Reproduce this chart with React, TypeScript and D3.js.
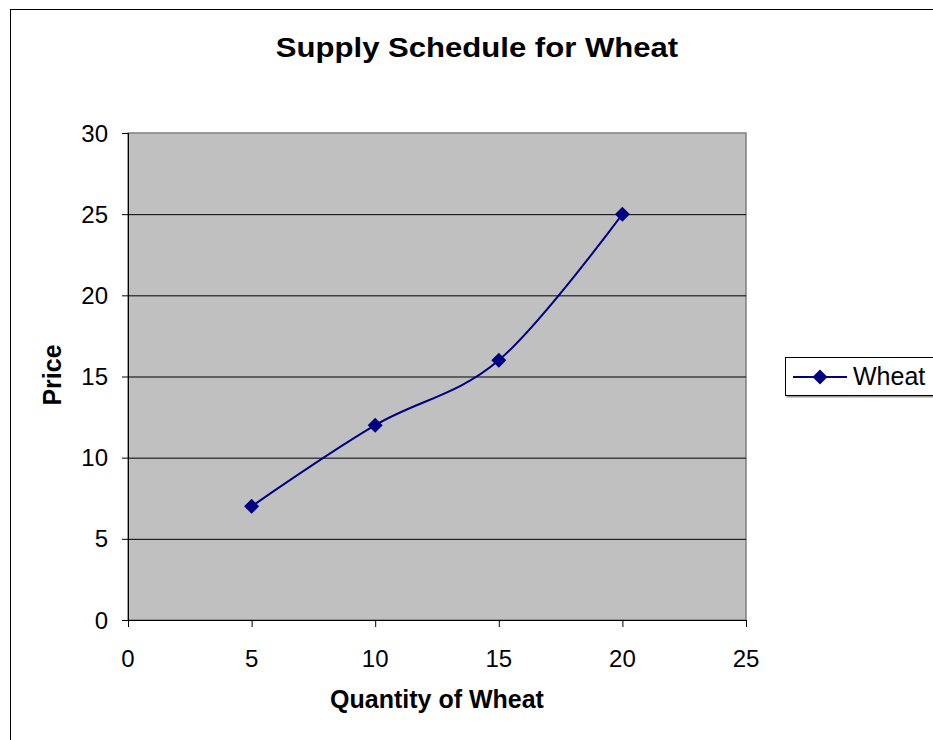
import * as d3 from 'd3';

const quantities = [5, 10, 15, 20];
const prices = [7, 12, 16, 25];
const xTicks = [0, 5, 10, 15, 20, 25];
const yTicks = [0, 5, 10, 15, 20, 25, 30];
const seriesName = 'Wheat';

const W = 933;
const H = 740;
const plot = { left: 128, top: 133, right: 746, bottom: 620 };
const navy = '#000080';
const font = 'Arial, "Liberation Sans", sans-serif';

export default function App() {
  const x = d3.scaleLinear().domain([0, 25]).range([plot.left, plot.right]);
  const y = d3.scaleLinear().domain([0, 30]).range([plot.bottom, plot.top]);
  const pts = quantities.map((q, i) => [q, prices[i]] as [number, number]);
  const line = d3
    .line<[number, number]>()
    .x(d => x(d[0]))
    .y(d => y(d[1]))
    .curve(d3.curveCatmullRom.alpha(0));
  const diamond = (cx: number, cy: number, r: number) =>
    `M${cx},${cy - r}L${cx + r},${cy}L${cx},${cy + r}L${cx - r},${cy}Z`;

  return (
    <svg
      width={W}
      height={H}
      style={{ position: 'absolute', left: 0, top: 0 }}
      fontFamily={font}
    >
      <rect x={0} y={0} width={W} height={H} fill="#fff" />
      {/* outer frame */}
      <rect x={10.5} y={9.5} width={W + 20} height={H + 20} fill="none" stroke="#000" strokeWidth={1} />
      {/* title: glyphs are wider than tall in the original, so stretch horizontally */}
      <text
        transform="translate(477,57) scale(1.11,1)"
        textAnchor="middle"
        fontSize={28}
        fontWeight="bold"
      >
        Supply Schedule for Wheat
      </text>

      {/* plot area */}
      <rect
        x={plot.left}
        y={plot.top}
        width={plot.right - plot.left}
        height={plot.bottom - plot.top}
        fill="#c0c0c0"
        stroke="#808080"
        strokeWidth={1.5}
      />
      {yTicks.slice(1, -1).map(t => (
        <line key={t} x1={plot.left} x2={plot.right} y1={y(t) + 0.5} y2={y(t) + 0.5} stroke="#000" strokeWidth={1} />
      ))}

      {/* y axis */}
      <line x1={plot.left + 0.5} x2={plot.left + 0.5} y1={plot.top} y2={plot.bottom} stroke="#000" />
      {yTicks.map(t => (
        <g key={t}>
          <line x1={plot.left - 6} x2={plot.left} y1={y(t) + 0.5} y2={y(t) + 0.5} stroke="#000" />
          <text x={plot.left - 20} y={y(t) + 8.5} textAnchor="end" fontSize={24}>
            {t}
          </text>
        </g>
      ))}

      {/* x axis */}
      <line x1={plot.left} x2={plot.right} y1={plot.bottom + 0.5} y2={plot.bottom + 0.5} stroke="#000" />
      {xTicks.map(t => (
        <g key={t}>
          <line x1={x(t) + 0.5} x2={x(t) + 0.5} y1={plot.bottom} y2={plot.bottom + 7} stroke="#000" />
          <text x={x(t)} y={plot.bottom + 47} textAnchor="middle" fontSize={24}>
            {t}
          </text>
        </g>
      ))}

      <text x={437} y={708} textAnchor="middle" fontSize={25} fontWeight="bold">
        Quantity of Wheat
      </text>
      <text
        transform={`translate(61,${375}) rotate(-90)`}
        textAnchor="middle"
        fontSize={25}
        fontWeight="bold"
      >
        Price
      </text>

      {/* series */}
      <path d={line(pts) ?? ''} fill="none" stroke={navy} strokeWidth={2} />
      {pts.map(([q, p]) => (
        <path key={q} d={diamond(x(q), y(p), 7.5)} fill={navy} />
      ))}

      {/* legend */}
      <rect x={786.5} y={396} width={160} height={1.5} fill="#999" />
      <rect x={785.5} y={357.5} width={160} height={38} fill="#fff" stroke="#000" />
      <line x1={793} x2={847} y1={377} y2={377} stroke={navy} strokeWidth={2} />
      <path d={diamond(820, 377, 7.5)} fill={navy} />
      <text x={853} y={385} fontSize={25}>
        {seriesName}
      </text>
    </svg>
  );
}
